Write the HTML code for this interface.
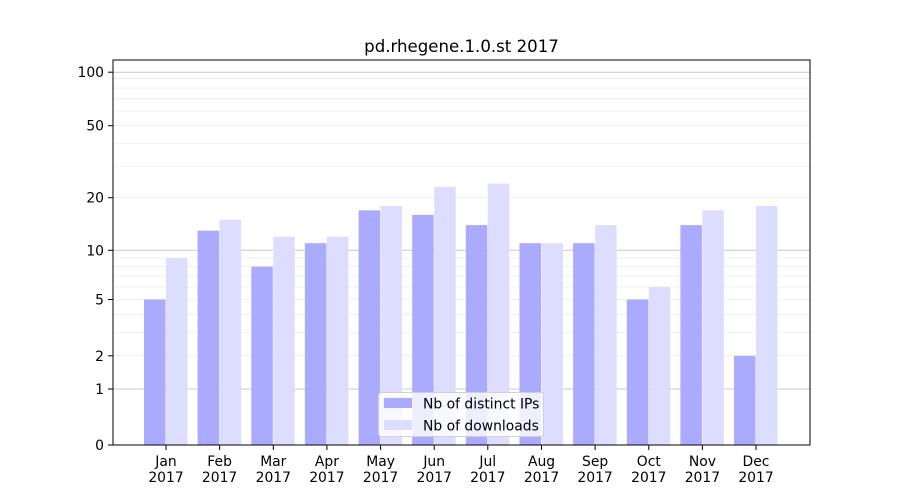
<!DOCTYPE html>
<html><head><meta charset="utf-8"><style>body{margin:0;background:#fff}svg{display:block;font-family:"DejaVu Sans","Liberation Sans",sans-serif}</style></head>
<body>
<svg width="900" height="500" viewBox="0 0 900 500" xmlns="http://www.w3.org/2000/svg">
<rect width="900" height="500" fill="#fff"/>
<g stroke="#ebebeb" stroke-width="0.8">
<line x1="113" x2="810" y1="355.8" y2="355.8"/><line x1="113" x2="810" y1="332.4" y2="332.4"/><line x1="113" x2="810" y1="314.3" y2="314.3"/><line x1="113" x2="810" y1="299.5" y2="299.5"/><line x1="113" x2="810" y1="287" y2="287"/><line x1="113" x2="810" y1="276.1" y2="276.1"/><line x1="113" x2="810" y1="266.6" y2="266.6"/><line x1="113" x2="810" y1="258" y2="258"/>
<line x1="113" x2="810" y1="197.7" y2="197.7"/><line x1="113" x2="810" y1="166.1" y2="166.1"/><line x1="113" x2="810" y1="143.4" y2="143.4"/><line x1="113" x2="810" y1="125.7" y2="125.7"/><line x1="113" x2="810" y1="111.1" y2="111.1"/><line x1="113" x2="810" y1="98.8" y2="98.8"/><line x1="113" x2="810" y1="88.1" y2="88.1"/><line x1="113" x2="810" y1="78.7" y2="78.7"/>
</g>
<g stroke="#c8c8c8" stroke-width="1">
<line x1="113" x2="810" y1="389" y2="389"/><line x1="113" x2="810" y1="250.3" y2="250.3"/><line x1="113" x2="810" y1="72.2" y2="72.2"/>
</g>
<g fill="#aaaaff">
<rect x="144" y="299.5" width="21.5" height="145.5"/>
<rect x="197.6" y="230.7" width="21.5" height="214.3"/>
<rect x="251.3" y="266.6" width="21.5" height="178.4"/>
<rect x="304.9" y="243.2" width="21.5" height="201.8"/>
<rect x="358.6" y="210.3" width="21.5" height="234.7"/>
<rect x="412.2" y="214.9" width="21.5" height="230.1"/>
<rect x="465.8" y="225.1" width="21.5" height="219.9"/>
<rect x="519.5" y="243.2" width="21.5" height="201.8"/>
<rect x="573.1" y="243.2" width="21.5" height="201.8"/>
<rect x="626.8" y="299.5" width="21.5" height="145.5"/>
<rect x="680.4" y="225.1" width="21.5" height="219.9"/>
<rect x="734" y="355.8" width="21.5" height="89.2"/>
</g>
<g fill="#ddddff">
<rect x="166" y="258" width="21.5" height="187"/>
<rect x="219.6" y="219.8" width="21.5" height="225.2"/>
<rect x="273.3" y="236.7" width="21.5" height="208.3"/>
<rect x="326.9" y="236.7" width="21.5" height="208.3"/>
<rect x="380.6" y="205.9" width="21.5" height="239.1"/>
<rect x="434.2" y="186.9" width="21.5" height="258.1"/>
<rect x="487.8" y="183.6" width="21.5" height="261.4"/>
<rect x="541.5" y="243.2" width="21.5" height="201.8"/>
<rect x="595.1" y="225.1" width="21.5" height="219.9"/>
<rect x="648.8" y="287" width="21.5" height="158"/>
<rect x="702.4" y="210.3" width="21.5" height="234.7"/>
<rect x="756" y="205.9" width="21.5" height="239.1"/>
</g>
<rect x="113" y="60" width="697" height="385" fill="none" stroke="#000" stroke-width="1"/>
<g stroke="#000" stroke-width="1">
<line x1="108" x2="113" y1="445" y2="445"/><line x1="108" x2="113" y1="389" y2="389"/><line x1="108" x2="113" y1="355.8" y2="355.8"/><line x1="108" x2="113" y1="299.5" y2="299.5"/><line x1="108" x2="113" y1="250.3" y2="250.3"/><line x1="108" x2="113" y1="197.7" y2="197.7"/><line x1="108" x2="113" y1="125.7" y2="125.7"/><line x1="108" x2="113" y1="72.2" y2="72.2"/>
<line y1="445" y2="450" x1="166" x2="166"/><line y1="445" y2="450" x1="219.6" x2="219.6"/><line y1="445" y2="450" x1="273.3" x2="273.3"/><line y1="445" y2="450" x1="326.9" x2="326.9"/><line y1="445" y2="450" x1="380.6" x2="380.6"/><line y1="445" y2="450" x1="434.2" x2="434.2"/><line y1="445" y2="450" x1="487.8" x2="487.8"/><line y1="445" y2="450" x1="541.5" x2="541.5"/><line y1="445" y2="450" x1="595.1" x2="595.1"/><line y1="445" y2="450" x1="648.8" x2="648.8"/><line y1="445" y2="450" x1="702.4" x2="702.4"/><line y1="445" y2="450" x1="756" x2="756"/>
</g>
<g font-size="13.9" text-anchor="end" fill="#000">
<text x="104" y="450">0</text><text x="104" y="394">1</text><text x="104" y="360.8">2</text><text x="104" y="304.5">5</text><text x="104" y="255.3">10</text><text x="104" y="202.7">20</text><text x="104" y="130.7">50</text><text x="104" y="77.2">100</text>
</g>
<g font-size="13.9" text-anchor="middle" fill="#000">
<text x="166" y="466">Jan</text><text x="166" y="482">2017</text>
<text x="219.6" y="466">Feb</text><text x="219.6" y="482">2017</text>
<text x="273.3" y="466">Mar</text><text x="273.3" y="482">2017</text>
<text x="326.9" y="466">Apr</text><text x="326.9" y="482">2017</text>
<text x="380.6" y="466">May</text><text x="380.6" y="482">2017</text>
<text x="434.2" y="466">Jun</text><text x="434.2" y="482">2017</text>
<text x="487.8" y="466">Jul</text><text x="487.8" y="482">2017</text>
<text x="541.5" y="466">Aug</text><text x="541.5" y="482">2017</text>
<text x="595.1" y="466">Sep</text><text x="595.1" y="482">2017</text>
<text x="648.8" y="466">Oct</text><text x="648.8" y="482">2017</text>
<text x="702.4" y="466">Nov</text><text x="702.4" y="482">2017</text>
<text x="756" y="466">Dec</text><text x="756" y="482">2017</text>
<text x="461.5" y="52" font-size="16.6">pd.rhegene.1.0.st 2017</text>
</g>
<rect x="378.5" y="392.5" width="165" height="44" rx="3" fill="#fff" fill-opacity="0.8" stroke="#d0d0d0"/>
<rect x="384" y="398" width="28" height="10" fill="#aaaaff"/>
<rect x="384" y="420" width="28" height="10" fill="#ddddff"/>
<g font-size="13.9" fill="#000">
<text x="423" y="408.5">Nb of distinct IPs</text>
<text x="423" y="430.5">Nb of downloads</text>
</g>
</svg>
</body></html>
